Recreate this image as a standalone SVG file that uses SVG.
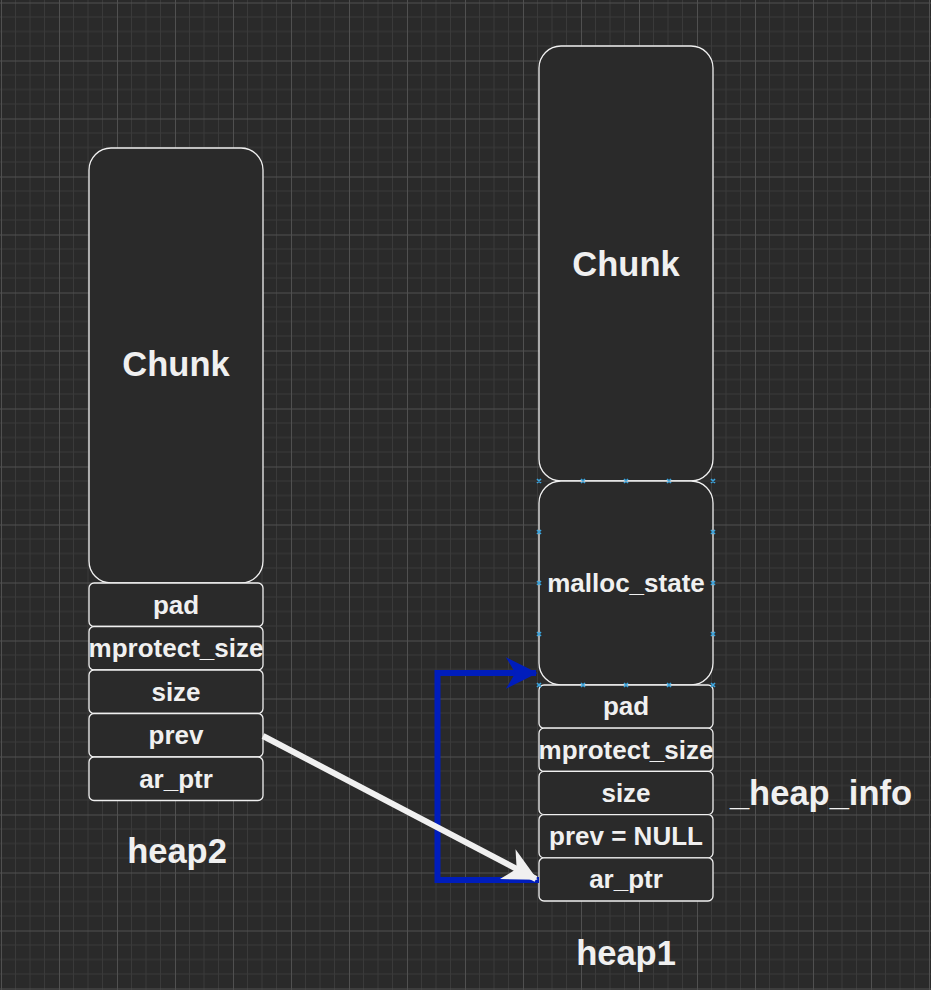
<svg xmlns="http://www.w3.org/2000/svg" width="931" height="990" viewBox="0 0 931 990">
<defs>
<pattern id="grid" patternUnits="userSpaceOnUse" x="1" y="2.5" width="58" height="58">
<rect width="58" height="58" fill="#2a2a2a"/>
<path d="M14.5 0V58M29 0V58M43.5 0V58M0 14.5H58M0 29H58M0 43.5H58" stroke="#3a3a3a" stroke-width="1" fill="none"/>
<path d="M0.5 0V58M0 0.5H58" stroke="#505050" stroke-width="1" fill="none"/>
</pattern>
<marker id="arrW" viewBox="0 0 10 10" refX="9.5" refY="5" markerWidth="5.6" markerHeight="5.6" markerUnits="strokeWidth" orient="auto">
<path d="M0 0L10 5L0 10L3 5Z" fill="#f0f0f0"/>
</marker>
<marker id="arrB" viewBox="0 0 10 10" refX="9.5" refY="5" markerWidth="5.3" markerHeight="5.3" markerUnits="strokeWidth" orient="auto">
<path d="M0 0L10 5L0 10L3 5Z" fill="#001dbc"/>
</marker>
</defs>
<style>
.box{fill:#2a2a2a;stroke:#f0f0f0;stroke-width:1.3}
.t{font-family:"Liberation Sans",Arial,sans-serif;font-weight:bold;fill:#f0f0f0;text-anchor:middle}
.row{font-size:26px}
.big{font-size:34.5px}
.h{stroke:#3ba5df;stroke-width:1.6;fill:none}
</style>
<rect width="931" height="990" fill="url(#grid)"/>

<g id="heap2">
<g id="h2-chunk"><rect class="box" x="89" y="148" width="174" height="435" rx="22"/><text class="t big" x="176" y="376">Chunk</text></g>
<g id="h2-pad"><rect class="box" x="89" y="583" width="174" height="43.5" rx="5"/><text class="t row" x="176" y="613.5">pad</text></g>
<g id="h2-mprotect"><rect class="box" x="89" y="626.5" width="174" height="43.5" rx="5"/><text class="t row" x="176" y="657">mprotect_size</text></g>
<g id="h2-size"><rect class="box" x="89" y="670" width="174" height="43.5" rx="5"/><text class="t row" x="176" y="700.5">size</text></g>
<g id="h2-prev"><rect class="box" x="89" y="713.5" width="174" height="43.5" rx="5"/><text class="t row" x="176" y="744">prev</text></g>
<g id="h2-arptr"><rect class="box" x="89" y="757" width="174" height="43.5" rx="5"/><text class="t row" x="176" y="787.5">ar_ptr</text></g>
<text class="t big" x="177" y="863">heap2</text>
</g>

<g id="heap1">
<g id="h1-chunk"><rect class="box" x="539" y="46" width="174" height="435" rx="22"/><text class="t big" x="626" y="276">Chunk</text></g>
<g id="h1-malloc"><rect class="box" x="539" y="481" width="174" height="204" rx="22"/><text class="t row" x="626" y="592">malloc_state</text></g>
<g id="h1-pad"><rect class="box" x="539" y="685" width="174" height="43.2" rx="5"/><text class="t row" x="626" y="715">pad</text></g>
<g id="h1-mprotect"><rect class="box" x="539" y="728.2" width="174" height="43.2" rx="5"/><text class="t row" x="626" y="758.5">mprotect_size</text></g>
<g id="h1-size"><rect class="box" x="539" y="771.4" width="174" height="43.2" rx="5"/><text class="t row" x="626" y="801.5">size</text></g>
<g id="h1-prev"><rect class="box" x="539" y="814.6" width="174" height="43.2" rx="5"/><text class="t row" x="626" y="845">prev = NULL</text></g>
<g id="h1-arptr"><rect class="box" x="539" y="857.8" width="174" height="43.2" rx="5"/><text class="t row" x="626" y="888">ar_ptr</text></g>
<text class="t big" x="626" y="965">heap1</text>
<text class="t big" x="821" y="805">_heap_info</text>
</g>

<g id="handles">
<path class="h" d="M537 479l4 4m0-4l-4 4M581 479l4 4m0-4l-4 4M624 479l4 4m0-4l-4 4M667 479l4 4m0-4l-4 4M711 479l4 4m0-4l-4 4
M537 530l4 4m0-4l-4 4M711 530l4 4m0-4l-4 4M537 581l4 4m0-4l-4 4M711 581l4 4m0-4l-4 4M537 632l4 4m0-4l-4 4M711 632l4 4m0-4l-4 4
M537 683l4 4m0-4l-4 4M581 683l4 4m0-4l-4 4M624 683l4 4m0-4l-4 4M667 683l4 4m0-4l-4 4M711 683l4 4m0-4l-4 4"/>
</g>

<g id="connectors">
<path d="M539 880H437.5V673H536" fill="none" stroke="#001dbc" stroke-width="6" marker-end="url(#arrB)"/>
<path d="M263 736L536 879" fill="none" stroke="#f0f0f0" stroke-width="6" marker-end="url(#arrW)"/>
</g>
</svg>
